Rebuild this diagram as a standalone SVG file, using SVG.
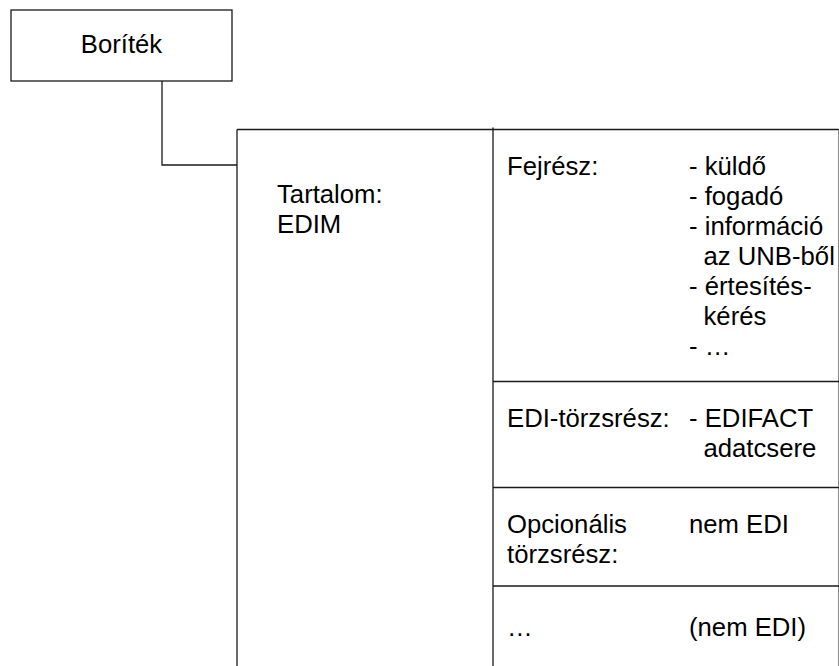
<svg xmlns="http://www.w3.org/2000/svg" width="839" height="666" viewBox="0 0 839 666">
  <style>
    .ln { fill: none; stroke: #1a1a1a; stroke-width: 1.3; }
    .edge { fill: none; stroke: #8a8a8a; stroke-width: 1; }
    text { font-family: "Liberation Sans", Arial, sans-serif; font-size: 25.7px; fill: #000; }
  </style>
  <rect width="839" height="666" fill="#fff"/>

  <!-- envelope -->
  <g id="boritek">
    <rect class="ln" x="11" y="10" width="221" height="71"/>
    <text x="121.5" y="52.5" text-anchor="middle">Boríték</text>
  </g>

  <!-- connector from envelope to content -->
  <g id="connectors">
    <polyline class="ln" points="162,81 162,165 237,165"/>
  </g>

  <!-- content block -->
  <g id="tartalom">
    <line class="ln" x1="237" y1="129.5" x2="237" y2="666"/>
    <line class="ln" x1="237" y1="129.5" x2="839" y2="129.5"/>
    <line class="ln" x1="493" y1="127.5" x2="493" y2="666"/>
    <line class="edge" x1="838.5" y1="129.5" x2="838.5" y2="666"/>
    <text x="277" y="203">Tartalom:</text>
    <text x="277" y="233">EDIM</text>
  </g>

  <!-- header section -->
  <g id="fejresz">
    <text x="507" y="174.5">Fejrész:</text>
    <text x="689" y="174.5">- küldő</text>
    <text x="689" y="204.5">- fogadó</text>
    <text x="689" y="234.5">- információ</text>
    <text x="703.5" y="264.5">az UNB-ből</text>
    <text x="689" y="294.5">- értesítés-</text>
    <text x="703.5" y="324.5">kérés</text>
    <text x="689" y="354.5">- …</text>
  </g>

  <!-- EDI body -->
  <g id="edi-torzsresz">
    <line class="ln" x1="493" y1="381.5" x2="839" y2="381.5"/>
    <text x="507" y="426.5">EDI-törzsrész:</text>
    <text x="689" y="426.5">- EDIFACT</text>
    <text x="703.5" y="456.5">adatcsere</text>
  </g>

  <!-- optional body -->
  <g id="opcionalis">
    <line class="ln" x1="493" y1="487.5" x2="839" y2="487.5"/>
    <text x="507" y="533">Opcionális</text>
    <text x="507" y="563">törzsrész:</text>
    <text x="689" y="533">nem EDI</text>
  </g>

  <!-- further parts -->
  <g id="tovabbi">
    <line class="ln" x1="493" y1="586" x2="839" y2="586"/>
    <text x="507" y="636">…</text>
    <text x="689" y="636">(nem EDI)</text>
  </g>
</svg>
